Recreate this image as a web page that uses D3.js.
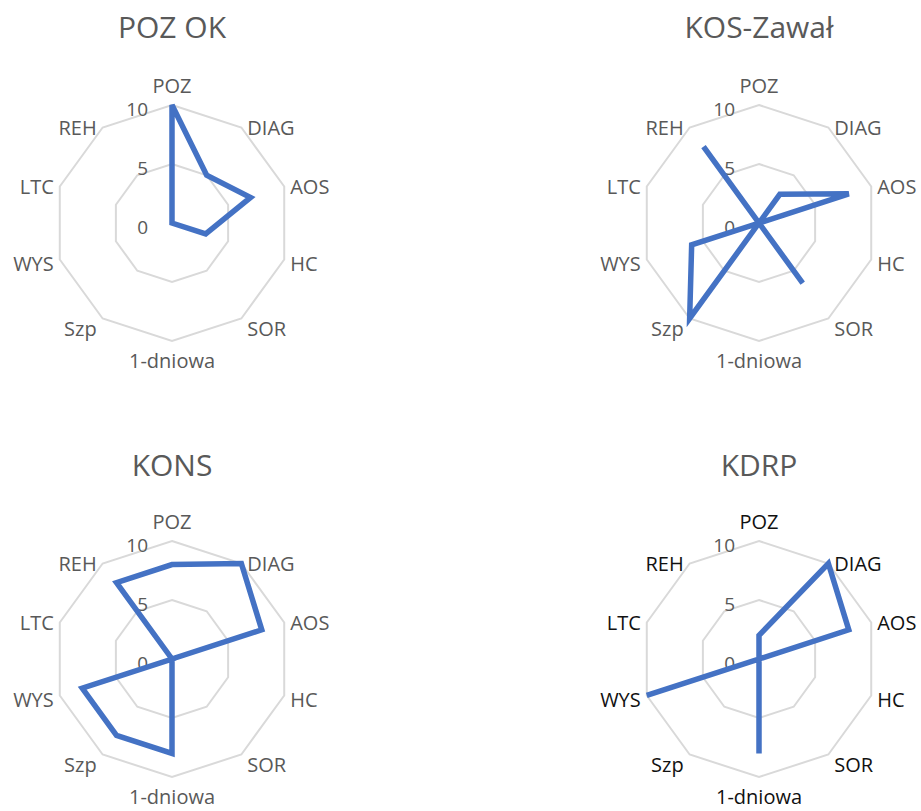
<!DOCTYPE html>
<html>
<head>
<meta charset="utf-8">
<script src="https://cdn.jsdelivr.net/npm/d3@7"></script>
<style>
  html, body { margin: 0; padding: 0; background: #ffffff; }
  svg { display: block; }
</style>
</head>
<body>
<div id="chart"></div>
<script>
// ---- data ----
const categories = ["POZ", "DIAG", "AOS", "HC", "SOR", "1-dniowa", "Szp", "WYS", "LTC", "REH"];
const tickValues = [0, 5, 10];
const tickLabels = ["0", "5", "10"];
const titles = ["POZ OK", "KOS-Zawał", "KONS", "KDRP"];
const pozOk    = [10, 5, 7, 3, 0, 0, 0, 0, 0, 0];
const kosZawal = [0, 3, 8, 0, 6.3, 0, 10, 6, 0, 8];
const kons     = [8, 10, 8, 0, 0, 8, 8, 8, 0, 8];
const kdrp     = [2, 10, 8, 0, 0, 8, 0, 10, 0, 0];
const seriesList = [pozOk, kosZawal, kons, kdrp];

// ---- layout ----
const W = 921, H = 811;
const centers = [[172, 223], [759, 223], [172, 659], [759, 659]];
const titleY = [38, 38, 476, 476];
const labelColors = ["#595959", "#595959", "#595959", "#111111"];
const R = 118;
const fontFam = "'Open Sans', 'DejaVu Sans', sans-serif";

const svg = d3.select("#chart").append("svg")
  .attr("width", W).attr("height", H);

const rScale = d3.scaleLinear().domain([0, 10]).range([0, R]);
const aScale = d3.scaleLinear().domain([0, categories.length]).range([0, 2 * Math.PI]);

function pt(i, v) {
  const a = aScale(i);
  const r = rScale(v);
  return [r * Math.sin(a), -r * Math.cos(a)];
}

seriesList.forEach((vals, k) => {
  const [cx, cy] = centers[k];
  const g = svg.append("g").attr("transform", `translate(${cx},${cy})`);

  // title
  svg.append("text")
    .attr("x", cx).attr("y", titleY[k])
    .attr("text-anchor", "middle")
    .attr("font-family", fontFam)
    .attr("font-size", 30)
    .attr("fill", "#595959")
    .text(titles[k]);

  // grid rings (decagons)
  const ringLine = d3.lineRadial()
    .angle((d, i) => aScale(i))
    .radius(d => rScale(d))
    .curve(d3.curveLinearClosed);
  tickValues.filter(t => t > 0).forEach(t => {
    g.append("path")
      .attr("d", ringLine(categories.map(() => t)))
      .attr("fill", "none")
      .attr("stroke", "#d9d9d9")
      .attr("stroke-width", 2);
  });

  // tick labels
  tickValues.forEach((t, i) => {
    g.append("text")
      .attr("x", -24)
      .attr("y", -rScale(t) + 4)
      .attr("text-anchor", "end")
      .attr("dominant-baseline", "central")
      .attr("font-family", fontFam)
      .attr("font-size", 19)
      .attr("fill", "#595959")
      .text(tickLabels[i]);
  });

  // series line
  const line = d3.lineRadial()
    .angle((d, i) => aScale(i))
    .radius(d => rScale(d))
    .curve(d3.curveLinearClosed);
  g.append("path")
    .attr("d", line(vals))
    .attr("fill", "none")
    .attr("stroke", "#4472c4")
    .attr("stroke-width", 5.5)
    .attr("stroke-linejoin", "miter");

  // category labels
  categories.forEach((c, i) => {
    const [vx, vy] = pt(i, 10);
    const a = aScale(i);
    const s = Math.sin(a), co = Math.cos(a);
    let x = vx, y = vy, anchor = "middle";
    if (s > 0.1) { anchor = "start"; x = vx + 6; y = vy + Math.max(0, -co) * 12; }
    else if (s < -0.1) { anchor = "end"; x = vx - 6; y = vy + Math.max(0, -co) * 12; }
    else if (co > 0) { y = vy - 20; }
    else { y = vy + 19; }
    g.append("text")
      .attr("x", x).attr("y", y)
      .attr("text-anchor", anchor)
      .attr("dominant-baseline", "central")
      .attr("font-family", fontFam)
      .attr("font-size", 20)
      .attr("fill", labelColors[k])
      .text(c);
  });
});
</script>
</body>
</html>
